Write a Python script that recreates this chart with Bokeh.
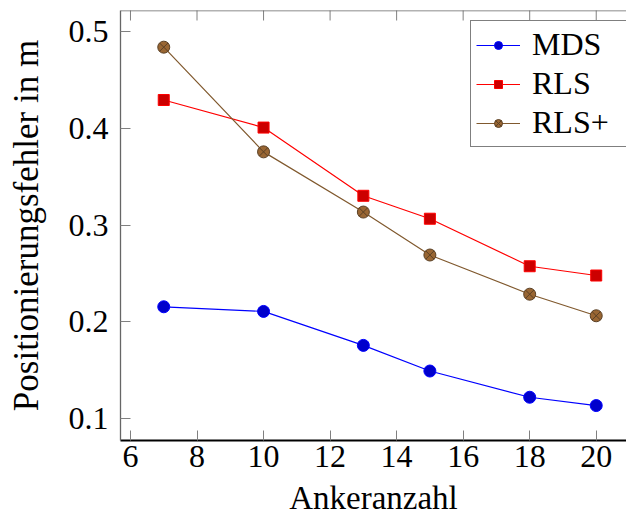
import math
from bokeh.plotting import figure
from bokeh.models import Range1d, FixedTicker, Legend, LegendItem, Span
from bokeh.embed import file_html
from bokeh.resources import INLINE

# Anzahl der Anker
anchors = [7, 10, 13, 15, 18, 20]

# mittlerer Positionierungsfehler in m
mds = [0.2155, 0.2107, 0.1756, 0.1491, 0.1220, 0.1134]
rls = [0.4292, 0.4007, 0.3302, 0.3065, 0.2574, 0.2478]
rls_plus = [0.4838, 0.3756, 0.3134, 0.2690, 0.2285, 0.2062]

x_ticks = [6, 8, 10, 12, 14, 16, 18, 20]
y_ticks = [0.1, 0.2, 0.3, 0.4, 0.5]

FONT = "Liberation Serif"
Y_MAX = 0.5217

p = figure(width=626, height=518, output_backend="svg", toolbar_location=None,
           x_range=Range1d(5.7, 20.91), y_range=Range1d(0.0773, Y_MAX),
           min_border_left=120, min_border_right=0, min_border_top=10,
           min_border_bottom=78, x_axis_label="Ankeranzahl",
           y_axis_label="Positionierungsfehler in m")
p.outline_line_color = None
p.background_fill_color = "white"
p.border_fill_color = "white"
p.xgrid.visible = False
p.ygrid.visible = False

p.xaxis.ticker = FixedTicker(ticks=x_ticks)
p.yaxis.ticker = FixedTicker(ticks=y_ticks)

for ax in (p.xaxis[0], p.yaxis[0]):
    ax.major_tick_in = 10
    ax.major_tick_out = 0
    ax.minor_tick_line_color = None
    ax.major_tick_line_color = "#808080"
    ax.major_tick_line_width = 1
    ax.major_label_text_font = FONT
    ax.major_label_text_font_size = "32px"
    ax.major_label_text_color = "black"
    ax.axis_label_text_font = FONT
    ax.axis_label_text_font_style = "normal"
    ax.axis_label_text_color = "black"

p.xaxis.axis_line_color = "black"
p.xaxis.axis_line_width = 2
p.xaxis.major_label_standoff = 5
p.xaxis.axis_label_standoff = 10
p.xaxis.axis_label_text_font_size = "33px"
p.yaxis.axis_line_color = "#666666"
p.yaxis.axis_line_width = 1.3
p.yaxis.major_label_standoff = 12
p.yaxis.axis_label_standoff = 20
p.yaxis.axis_label_text_font_size = "35px"
p.yaxis.formatter.use_scientific = False

# obere Rahmenlinie mit nach innen zeigenden Teilstrichen
p.add_layout(Span(location=Y_MAX, dimension="width", line_color="#666666",
                  line_width=1.5))
p.scatter(x_ticks, [Y_MAX] * len(x_ticks), marker="dash", size=20,
          angle=math.pi / 2, line_color="#808080", line_width=1)

r_mds_l = p.line(anchors, mds, line_color="#0000ff", line_width=1.2)
r_mds_m = p.scatter(anchors, mds, marker="circle", size=12,
                    fill_color="#0000cc", line_color="#0000ff", line_width=1)

r_rls_l = p.line(anchors, rls, line_color="#ff0000", line_width=1.2)
r_rls_m = p.scatter(anchors, rls, marker="square", size=11,
                    fill_color="#cc0000", line_color="#ff0000", line_width=1)

r_plus_l = p.line(anchors, rls_plus, line_color="#80592e", line_width=1.2)
r_plus_m = p.scatter(anchors, rls_plus, marker="circle_x", size=12,
                     fill_color="#996633", line_color="#5a4025", line_width=1)

legend = Legend(items=[
    LegendItem(label="MDS", renderers=[r_mds_l, r_mds_m]),
    LegendItem(label="RLS", renderers=[r_rls_l, r_rls_m]),
    LegendItem(label="RLS+", renderers=[r_plus_l, r_plus_m]),
], location=(350, 293))
legend.label_text_font = FONT
legend.label_text_font_size = "32px"
legend.label_text_color = "black"
legend.glyph_width = 44
legend.glyph_height = 20
legend.label_standoff = 12
legend.label_width = 130
legend.spacing = 2
legend.padding = 5
legend.margin = 0
legend.border_line_color = "black"
legend.border_line_width = 1.2
legend.background_fill_alpha = 1
p.add_layout(legend, "center")

open("out.html", "w").write(file_html(p, INLINE))
